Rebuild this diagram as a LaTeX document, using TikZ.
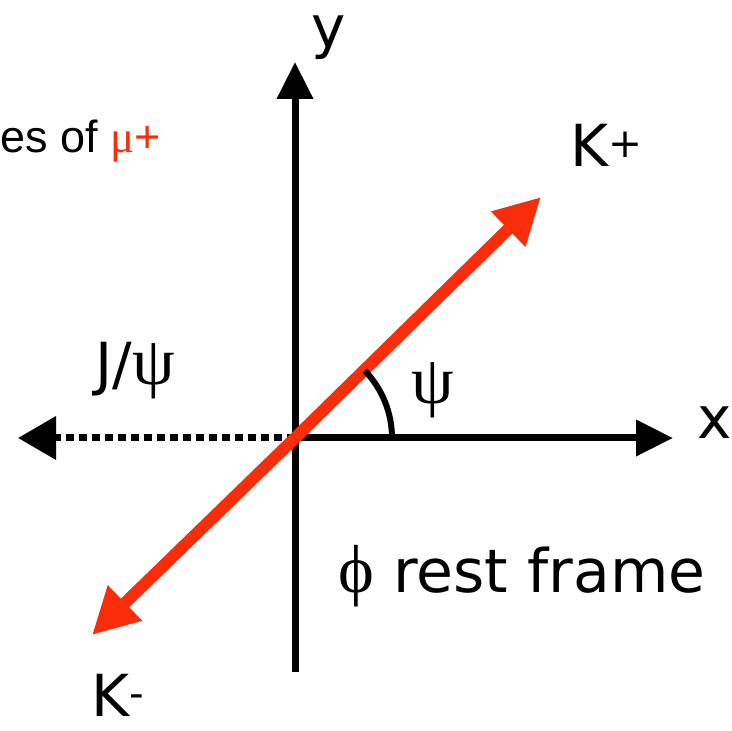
\documentclass[tikz,border=0pt]{standalone}
\usepackage{fontspec}
\setmainfont{DejaVu Sans}
\newfontfamily\greekfont{Liberation Serif}
\newfontfamily\arialfont{Liberation Sans}
\usetikzlibrary{arrows.meta,positioning,calc}
\definecolor{kaonred}{RGB}{250,45,10}
\tikzset{
  ax/.style={line width=7pt,-{Triangle[length=37pt,width=35pt]}},
  jpsi/.style={line width=7pt,dash pattern=on 8pt off 5pt,-{Triangle[length=38pt,width=42pt]}},
  kaon/.style={line width=12pt,color=kaonred,-{Triangle[length=46pt,width=46pt]}},
  szog/.style={line width=6pt},
  cimke/.style={inner sep=0pt,font=\fontsize{58}{60}\selectfont},
  gcimke/.style={inner sep=0pt,font=\greekfont\fontsize{68}{70}\selectfont},
}

\begin{document}
\begin{tikzpicture}[x=1pt,y=1pt]
  \useasboundingbox (0,0) rectangle (732,731);
  \coordinate (o) at (295,293);
  \coordinate (ytip) at (295,669); \coordinate (ybot) at (295,59);
  \coordinate (xtip) at (673,293); \coordinate (jtip) at (18,293);
  \coordinate (kp) at (541,534); \coordinate (km) at (92,96);
  \draw[ax] (ybot) -- (ytip);
  \draw[ax] (o) -- (xtip);
  \draw[jpsi] (o) -- (jtip);
  \draw[kaon] (o) -- (kp); \draw[kaon] (o) -- (km);
  \draw[szog] ($(o)+(97,0)$) arc (0:44:97);
  \node[cimke] (ylab) at (329,693) {y};
  \node[cimke] (xlab) at (715,308) {x};
  \node[cimke] (kplus) at (607,586) {K\textsuperscript{+}};
  \node[cimke] (kminus) at (118,36) {K\textsuperscript{-}};
  \node[cimke] (jlab) at (135,360) {J/{\greekfont\fontsize{68}{70}\selectfont ψ}};
  \node[gcimke] (psi) at (433,341) {ψ};
  \node[cimke,font=\fontsize{60}{62}\selectfont] (frame) at (522,155)
    {{\greekfont\fontsize{68}{70}\selectfont ϕ} rest frame};
  \node[inner sep=0pt,anchor=west,font=\arialfont\fontsize{45}{47}\selectfont] (mu) at (0,590)
    {es of {\color{kaonred}{\greekfont μ}+}};
\end{tikzpicture}
\end{document}
